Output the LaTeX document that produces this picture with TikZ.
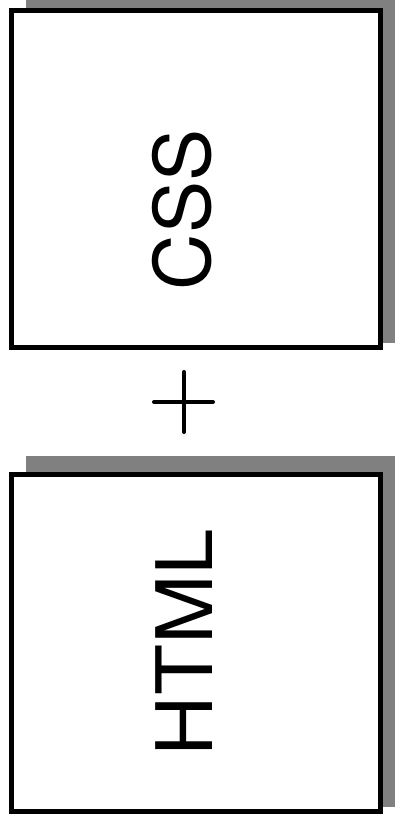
\documentclass[tikz,border=0pt]{standalone}
\usepackage{fontspec}
\setmainfont{TeX Gyre Heros}
\definecolor{shadowgray}{HTML}{808080}
\begin{document}
\begin{tikzpicture}[x=1pt,y=-1pt,
  boxstyle/.style={draw=black,line width=5pt,fill=white,minimum width=369pt,minimum height=337pt,inner sep=0pt,outer sep=0pt},
  shadowstyle/.style={fill=shadowgray},
  labelstyle/.style={rotate=90,inner sep=0pt,font=\fontsize{78}{80}\selectfont},
  plusstyle/.style={line width=4pt,line cap=round}]
\useasboundingbox (0,0) rectangle (395,825);
\fill[shadowstyle] (26,0) rectangle (395,343);
\fill[shadowstyle] (26,456) rectangle (395,807);
\node[boxstyle] (cssbox) at (196,179) {};
\node[boxstyle] (htmlbox) at (196,643) {};
\node[labelstyle] (csslabel) at (182.5,210) {CSS};
\node[labelstyle,xscale=1.07] (htmllabel) at (184,642.5) {HTML};
\coordinate (pl) at (154,402);
\coordinate (pr) at (213,402);
\coordinate (pt) at (184,372);
\coordinate (pb) at (184,432);
\draw[plusstyle] (pl) -- (pr);
\draw[plusstyle] (pt) -- (pb);
\end{tikzpicture}
\end{document}
